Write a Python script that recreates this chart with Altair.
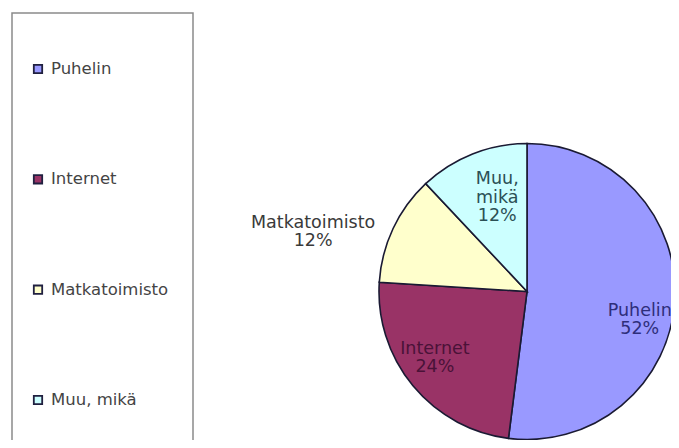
import altair as alt
import pandas as pd

categories = ["Puhelin", "Internet", "Matkatoimisto", "Muu, mikä"]
values = [52, 24, 12, 12]
colors = ["#9999FF", "#993366", "#FFFFCC", "#CCFFFF"]
label_colors = ["#2e2e7a", "#4a1238", "#3a3a3a", "#2b5055"]

df = pd.DataFrame({"cat": categories, "value": values, "ord": list(range(len(categories)))})

W, H = 663, 432
CX, CY = 519, 283.5  # pie centre in view pixels
FONT = "DejaVu Sans"

color_scale = alt.Scale(domain=categories, range=colors)
theta = alt.Theta("value:Q", stack=True)
order = alt.Order("ord:Q", sort="ascending")

base = alt.Chart(df)

pie = base.mark_arc(outerRadius=148, stroke="#1a1a33", strokeWidth=1.6).encode(
    theta=theta,
    color=alt.Color("cat:N", scale=color_scale, legend=None),
    order=order,
    x=alt.value(CX),
    y=alt.value(CY),
)

def label_layer(cat, radius, dx, dy, col):
    expr = (
        f"datum.cat == '{cat}' ? replace(datum.cat, ', ', ',\\n') + '\\n' + datum.value + '%' : ''"
    )
    return base.transform_calculate(lab=expr).mark_text(
        radius=radius, dx=dx, dy=dy, font=FONT, fontSize=17.5, lineHeight=18.5,
        lineBreak="\n", align="center", baseline="middle", color=col,
    ).encode(
        theta=theta,
        order=order,
        text="lab:N",
        x=alt.value(CX),
        y=alt.value(CY),
    )

labels = [
    label_layer("Puhelin", 116, -3, 12, label_colors[0]),
    label_layer("Internet", 113, -5, -15, label_colors[1]),
    label_layer("Matkatoimisto", 222, -13, 26, label_colors[2]),
    label_layer("Muu, mikä", 97, 6, -22, label_colors[3]),
]

# legend frame
frame = base.transform_filter("datum.ord == 0").mark_rect(
    fill="white", stroke="#8a8a8a", strokeWidth=1.5
).encode(
    x=alt.value(4), x2=alt.value(185), y=alt.value(5), y2=alt.value(470)
)

leg_y = alt.Y("cat:N", scale=alt.Scale(type="point", domain=categories, range=[61, 392], padding=0), axis=None)

leg_sym = base.mark_square(size=70, stroke="#202040", strokeWidth=1.8, opacity=1).encode(
    x=alt.value(30),
    y=leg_y,
    color=alt.Color("cat:N", scale=color_scale, legend=None),
)

leg_txt = base.mark_text(
    align="left", baseline="middle", font=FONT, fontSize=16.5, color="#444444"
).encode(
    x=alt.value(43),
    y=leg_y,
    text="cat:N",
)

chart = alt.layer(frame, pie, *labels, leg_sym, leg_txt).properties(
    width=W, height=H, padding=0, background="white",
    autosize=alt.AutoSizeParams(type="none"),
).configure_view(stroke=None)

chart.save("out.html", embed_options={"renderer": "svg", "actions": False})
